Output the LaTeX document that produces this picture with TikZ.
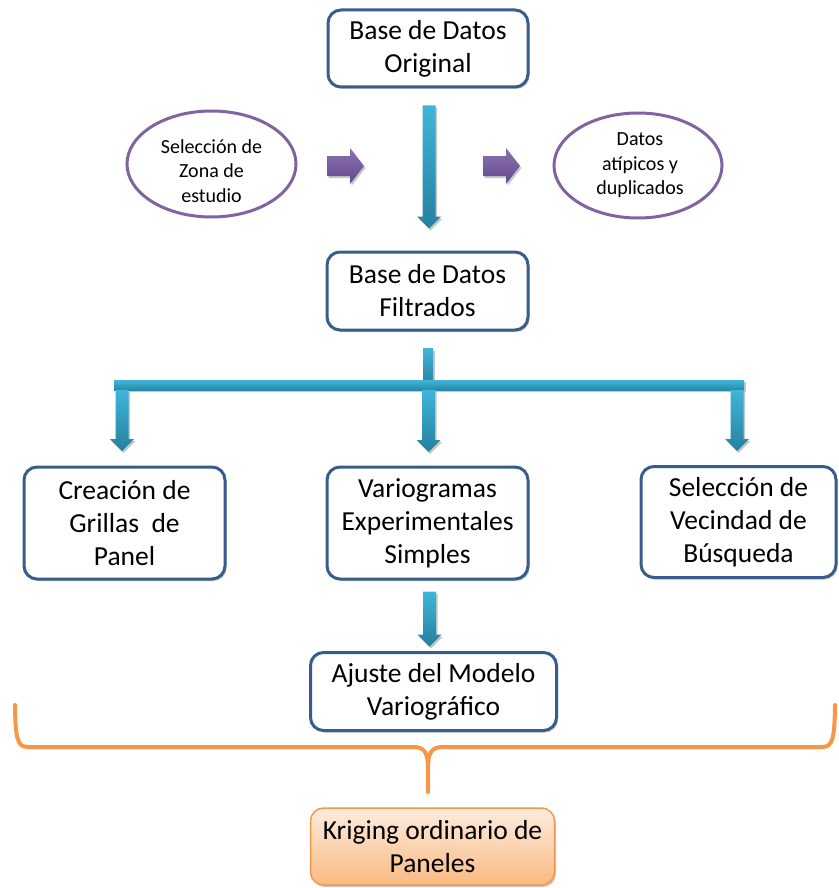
\documentclass[tikz,border=0pt]{standalone}
\usepackage{fontspec}
\setmainfont{Carlito}
\usetikzlibrary{shapes.geometric,shadows,calc}
\definecolor{boxblue}{RGB}{56,93,138}
\definecolor{purp}{RGB}{128,100,162}
\definecolor{purplight}{RGB}{140,112,176}
\definecolor{purpdark}{RGB}{98,76,140}
\definecolor{arrtop}{RGB}{62,182,218}
\definecolor{arrbot}{RGB}{38,128,158}
\definecolor{orng}{RGB}{247,150,70}
\definecolor{peachtop}{RGB}{253,236,222}
\definecolor{peachbot}{RGB}{250,186,130}
\tikzset{
  softshadow/.style={drop shadow={shadow xshift=1.5pt, shadow yshift=-2pt, opacity=0.22, fill=black}},
  bigfont/.style={font=\fontsize{27.5}{33}\selectfont},
  smallfont/.style={font=\fontsize{20}{24.5}\selectfont},
  bluebox/.style={draw=boxblue, line width=3pt, rounded corners=13pt, fill=white,
    align=center, bigfont, inner sep=0pt, softshadow},
  purpell/.style={ellipse, draw=purp, line width=3pt, fill=white, inner sep=0pt},
  ellipsetext/.style={align=center, smallfont, inner sep=0pt},
  krigbox/.style={draw=orng, line width=1.5pt, rounded corners=13pt,
    top color=peachtop, bottom color=peachbot, align=center, bigfont, inner sep=0pt, softshadow},
  bluearrow/.style={top color=arrtop, bottom color=arrbot, softshadow},
  bluebar/.style={top color=arrtop, bottom color=arrbot!85!arrtop, softshadow},
  purparrow/.style={top color=purplight, bottom color=purpdark, softshadow},
  bracestyle/.style={draw=orng, line width=4pt, line cap=round, line join=round}
}
\newcommand{\blkdown}[2]{%
  \path[bluearrow] #1 ++(-6.5,0) -- ++(13,0) -- ++(0,#2-12) -- ++(5.5,0)
    -- ++(-12,12) -- ++(-12,-12) -- ++(5.5,0) -- cycle;}
\newcommand{\blkright}[1]{%
  \path[purparrow] #1 ++(0,-10) -- ++(23,0) -- ++(0,-8) -- ++(14,18)
    -- ++(-14,18) -- ++(0,-8) -- ++(-23,0) -- cycle;}
\begin{document}
\begin{tikzpicture}[x=1pt,y=-1pt]
\useasboundingbox (0,0) rectangle (838,888);

% nodes
\node[bluebox, minimum width=200pt, minimum height=77pt] (orig) at (428,48.5) {Base de Datos\\Original};
\node[bluebox, minimum width=201pt, minimum height=78pt] (filt) at (427.5,291) {Base de Datos\\Filtrados};

\node[purpell, minimum width=169pt, minimum height=106pt] (ell1) at (211.5,164) {};
\node[ellipsetext] (ell1t) at (211.5,171) {Selecci\'on de\\Zona de\\estudio};
\node[purpell, minimum width=168pt, minimum height=105pt] (ell2) at (638,165.5) {};
\node[ellipsetext] (ell2t) at (640,165.5) {Datos\\at\'ipicos y\\duplicados};

\node[bluebox, minimum width=201pt, minimum height=112pt] (crea) at (124.5,523) {Creaci\'on de\\Grillas~ de\\Panel};
\node[bluebox, minimum width=201pt, minimum height=112pt] (vario) at (427.5,523) {Variogramas\\Experimentales\\Simples};
\node[bluebox, minimum width=195pt, minimum height=111pt] (vecin) at (738.5,522) {Selecci\'on de\\Vecindad de\\B\'usqueda};

\node[bluebox, minimum width=246pt, minimum height=78pt] (ajus) at (433.5,691.5) {Ajuste del Modelo\\Variogr\'afico};
\node[krigbox, minimum width=244pt, minimum height=77pt] (krig) at (432.5,846.5) {Kriging ordinario de\\Paneles};

% purple arrows
\blkright{(327,166)}
\blkright{(483,166)}

% vertical arrow Original -> Filtrados
\blkdown{($(orig.south)+(1,17)$)}{123}

% branch from Filtrados
\path[bluebar] ($(filt.south)+(-4.5,17)$) rectangle ($(filt.south)+(5.5,50)$);
\coordinate (barL) at (114,380);
\coordinate (barR) at (744,390);
\path[bluebar] (barL) rectangle (barR);
\blkdown{(122,390)}{61}
\blkdown{($(vario.north |- barR)+(1,0)$)}{62}
\blkdown{(737,390)}{61}

% Variogramas -> Ajuste
\blkdown{($(vario.south)+(2,11)$)}{55}

% orange brace
\draw[bracestyle] (15,705) .. controls (15.5,738) and (17,747) .. (28,747)
  -- (413,747) .. controls (424,747) and (428,752) .. (428,768) -- (428,792);
\draw[bracestyle] (428,768) .. controls (428,752) and (432,747) .. (443,747)
  -- (822,747) .. controls (833,747) and (834.5,738) .. (835,705);
\end{tikzpicture}
\end{document}
